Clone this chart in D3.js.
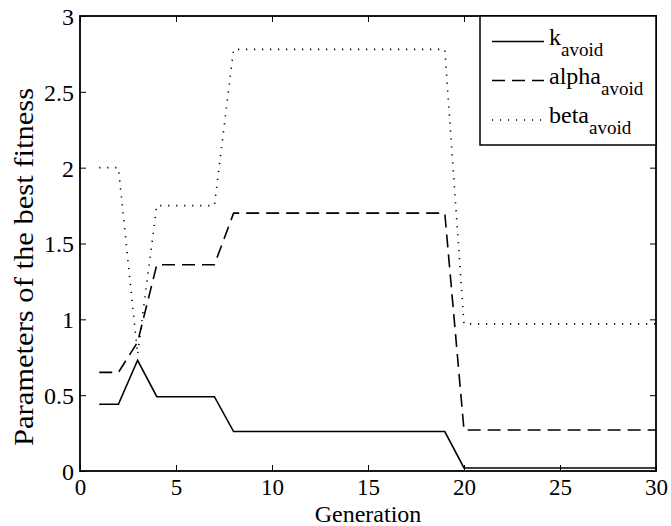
<!DOCTYPE html>
<html>
<head>
<meta charset="utf-8">
<script src="https://cdn.jsdelivr.net/npm/d3@7"></script>
<style>
  html, body { margin: 0; padding: 0; background: #fff; }
  svg { display: block; }
  text { font-family: "Liberation Serif", "Times New Roman", serif; fill: #000; }
</style>
</head>
<body>
<svg id="chart" width="671" height="526"></svg>
<script>
// ---- data ----
const generations = [1,2,3,4,5,6,7,8,9,10,11,12,13,14,15,16,17,18,19,20,21,22,23,24,25,26,27,28,29,30];
const kAvoid =     [0.44,0.44,0.73,0.49,0.49,0.49,0.49,0.26,0.26,0.26,0.26,0.26,0.26,0.26,0.26,0.26,0.26,0.26,0.26,0.02,0.02,0.02,0.02,0.02,0.02,0.02,0.02,0.02,0.02,0.02];
const alphaAvoid = [0.65,0.65,0.85,1.36,1.36,1.36,1.36,1.70,1.70,1.70,1.70,1.70,1.70,1.70,1.70,1.70,1.70,1.70,1.70,0.27,0.27,0.27,0.27,0.27,0.27,0.27,0.27,0.27,0.27,0.27];
const betaAvoid =  [2.00,2.00,0.77,1.75,1.75,1.75,1.75,2.78,2.78,2.78,2.78,2.78,2.78,2.78,2.78,2.78,2.78,2.78,2.78,0.97,0.97,0.97,0.97,0.97,0.97,0.97,0.97,0.97,0.97,0.97];
const xTicks = [0,5,10,15,20,25,30];
const yTicks = [0,0.5,1,1.5,2,2.5,3];
const seriesNames = ["k", "alpha", "beta"];
const subscript = "avoid";

// ---- layout ----
const FONT = '"Liberation Serif", "Times New Roman", serif';
const L = 80, R = 656, T = 16, B = 471;
const svg = d3.select("#chart");
const x = d3.scaleLinear().domain([0, 30]).range([L, R]);
const y = d3.scaleLinear().domain([0, 3]).range([B, T]);

const styles = [
  { dash: null },
  { dash: "13,7" },
  { dash: "1.2,6.8" }
];
const series = [kAvoid, alphaAvoid, betaAvoid];

// data lines
const line = d3.line().x((d, i) => x(generations[i])).y(d => y(d));
series.forEach((s, si) => {
  svg.append("path")
    .datum(s)
    .attr("fill", "none")
    .attr("stroke", "#000")
    .attr("stroke-width", 1.6)
    .attr("stroke-dasharray", styles[si].dash)
    .attr("d", line);
});

// axes (ticks inward, on all four sides)
const gBottom = svg.append("g").attr("transform", `translate(0,${B})`)
  .call(d3.axisBottom(x).tickValues(xTicks).tickSizeInner(-6).tickSizeOuter(0).tickPadding(8).tickFormat(d3.format("d")));
const gTop = svg.append("g").attr("transform", `translate(0,${T})`)
  .call(d3.axisTop(x).tickValues(xTicks).tickSizeInner(-6).tickSizeOuter(0).tickFormat(""));
const gLeft = svg.append("g").attr("transform", `translate(${L},0)`)
  .call(d3.axisLeft(y).tickValues(yTicks).tickSizeInner(-6).tickSizeOuter(0).tickPadding(6).tickFormat(d => String(d)));
const gRight = svg.append("g").attr("transform", `translate(${R},0)`)
  .call(d3.axisRight(y).tickValues(yTicks).tickSizeInner(-6).tickSizeOuter(0).tickFormat(""));

[gBottom, gTop, gLeft, gRight].forEach(g => {
  g.attr("font-family", FONT);
  g.select(".domain").remove();
  g.selectAll(".tick line").attr("stroke", "#000").attr("stroke-width", 1);
  g.selectAll(".tick text").style("font-family", FONT);
});
gBottom.selectAll(".tick text").attr("font-size", 23);
gLeft.selectAll(".tick text").attr("font-size", 24).attr("dy", "0.35em");

// box
svg.append("rect")
  .attr("x", L).attr("y", T).attr("width", R - L).attr("height", B - T)
  .attr("fill", "none").attr("stroke", "#000").attr("stroke-width", 1.8);

// axis labels
svg.append("text")
  .attr("x", (L + R) / 2).attr("y", 522)
  .attr("text-anchor", "middle").attr("font-size", 24)
  .style("font-family", FONT)
  .text("Generation");
svg.append("text")
  .attr("transform", `translate(33,267) rotate(-90)`)
  .attr("text-anchor", "middle").attr("font-size", 27)
  .attr("textLength", 358).attr("lengthAdjust", "spacingAndGlyphs")
  .style("font-family", FONT)
  .text("Parameters of the best fitness");

// legend
const lg = svg.append("g");
lg.append("rect")
  .attr("x", 480).attr("y", T).attr("width", R - 480).attr("height", 145 - T)
  .attr("fill", "#fff").attr("stroke", "#000").attr("stroke-width", 1.5);
const rowY = [41.5, 80.5, 120];
seriesNames.forEach((name, i) => {
  lg.append("line")
    .attr("x1", 492).attr("x2", 544).attr("y1", rowY[i]).attr("y2", rowY[i])
    .attr("stroke", "#000").attr("stroke-width", 1.6)
    .attr("stroke-dasharray", styles[i].dash);
  const t = lg.append("text")
    .attr("x", 549).attr("y", rowY[i] + 3)
    .attr("font-size", 24)
    .style("font-family", FONT);
  t.append("tspan").text(name);
  t.append("tspan").attr("dy", 11).attr("font-size", 19).text(subscript);
});
</script>
</body>
</html>
